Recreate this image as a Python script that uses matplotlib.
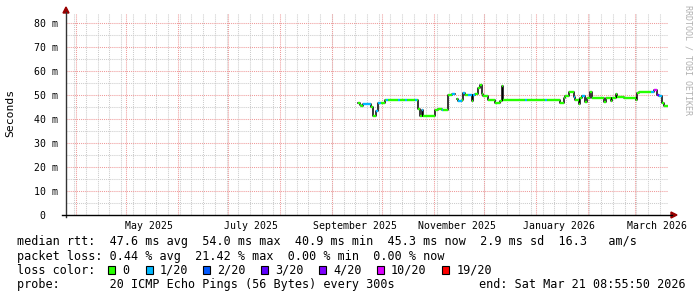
import numpy as np
import pandas as pd
import matplotlib
matplotlib.use("Agg")
import matplotlib.pyplot as plt
from matplotlib.lines import Line2D
from matplotlib.patches import Rectangle, Polygon

# median rtt per period (ms) and pings lost out of 20
fechas = ["2025-09-17", "2025-09-18", "2025-09-19", "2025-09-20", "2025-09-25", "2025-09-26",
          "2025-09-28", "2025-09-29", "2025-10-01", "2025-10-03", "2025-10-04", "2025-10-05",
          "2025-10-11", "2025-10-12", "2025-10-15", "2025-10-16", "2025-10-21", "2025-10-22",
          "2025-10-23", "2025-10-24", "2025-10-25", "2025-10-26", "2025-11-02", "2025-11-04",
          "2025-11-06", "2025-11-07", "2025-11-10", "2025-11-12", "2025-11-14", "2025-11-15",
          "2025-11-16", "2025-11-18", "2025-11-19", "2025-11-20", "2025-11-22", "2025-11-24",
          "2025-11-25", "2025-11-26", "2025-11-28", "2025-11-29", "2025-11-30", "2025-12-01",
          "2025-12-04", "2025-12-08", "2025-12-11", "2025-12-12", "2025-12-13", "2025-12-26",
          "2025-12-27", "2026-01-07", "2026-01-08", "2026-01-16", "2026-01-18", "2026-01-19",
          "2026-01-21", "2026-01-24", "2026-01-25", "2026-01-27", "2026-01-28", "2026-01-29",
          "2026-01-31", "2026-02-01", "2026-02-03", "2026-02-04", "2026-02-11", "2026-02-12",
          "2026-02-15", "2026-02-16", "2026-02-18", "2026-02-19", "2026-02-23", "2026-03-02",
          "2026-03-03", "2026-03-04", "2026-03-11", "2026-03-13", "2026-03-15", "2026-03-16",
          "2026-03-18", "2026-03-19"]
mediana = [46.6, 45.8, 45.2, 46.3, 45.0, 41.0,
           43.2, 46.5, 46.5, 47.7, 47.7, 47.7,
           47.7, 47.7, 47.9, 47.7, 47.7, 47.7,
           44.0, 41.1, 43.5, 41.1, 43.5, 44.0,
           43.5, 43.8, 50.0, 50.2, np.nan, 48.3,
           47.3, 48.0, 50.7, 50.0, 49.8, 47.3,
           50.0, 50.5, 52.8, 54.0, 50.3, 49.6,
           48.0, 46.7, 47.6, 53.5, 47.7, 47.7,
           47.7, 47.7, 47.7, 46.6, 48.7, 49.4,
           51.0, 49.0, 48.0, 46.0, 48.5, 49.4,
           46.8, 48.7, 51.0, 48.7, 47.0, 48.7,
           47.3, 48.7, 50.5, 49.0, 48.7, 48.0,
           50.7, 51.0, 51.3, 51.9, 50.0, 49.4,
           46.6, 45.3]
perdidos = [0, 0, 0, 1, 0, 0,
            1, 1, 0, 0, 1, 0,
            1, 0, 1, 0, 1, 0,
            0, 0, 1, 0, 0, 0,
            1, 0, 0, 1, 0, 0,
            1, 0, 1, 0, 1, 0,
            1, 0, 0, 0, 0, 0,
            0, 0, 0, 0, 0, 1,
            0, 1, 0, 0, 0, 0,
            0, 1, 0, 0, 0, 1,
            0, 0, 0, 0, 0, 0,
            0, 0, 0, 0, 0, 0,
            0, 0, 1, 10, 3, 1,
            0, 0]

inicio = pd.Timestamp("2025-03-26 08:55:50")
fin = pd.Timestamp("2026-03-21 08:55:50")

# leyenda de colores de pérdida
niveles_perdida = [0, 1, 2, 3, 4, 10, 19]
etiquetas_perdida = ["0", "1/20", "2/20", "3/20", "4/20", "10/20", "19/20"]
colores_perdida = ["#26ff00", "#00b8ff", "#0059ff", "#5e00ff", "#7e00ff", "#dd00ff", "#ff0000"]

etiquetas_x = ["May 2025", "July 2025", "September 2025", "November 2025", "January 2026", "March 2026"]
fechas_etiquetas = ["2025-05-15", "2025-07-15", "2025-09-15", "2025-11-15", "2026-01-15", "2026-03-15"]

fila_rtt = "median rtt:  47.6 ms avg  54.0 ms max  40.9 ms min  45.3 ms now  2.9 ms sd  16.3   am/s"
fila_loss = "packet loss: 0.44 % avg  21.42 % max  0.00 % min  0.00 % now"
sonda = "probe:       20 ICMP Echo Pings (56 Bytes) every 300s"
fin_txt = "end: Sat Mar 21 08:55:50 2026"

MONO = "DejaVu Sans Mono"
W, H = 697, 297


def px(x, y):
    return x / W, 1 - y / H


fig = plt.figure(figsize=(W / 100, H / 100), dpi=100)
fig.patch.set_facecolor("white")
ax = fig.add_axes([66 / W, (H - 215) / H, 602 / W, 202 / H])
ax.set_xlim(inicio, fin)
ax.set_ylim(0, 84)
for s in ax.spines.values():
    s.set_visible(False)

# grilla: semanas (gris) y meses (rojo)
for t in pd.date_range(inicio, fin, freq="W-MON"):
    ax.axvline(t, color="#cccccc", lw=0.75, ls=(0, (1, 1)), zorder=0)
for t in pd.date_range(inicio, fin, freq="MS"):
    ax.axvline(t, color="#ef9a9a", lw=0.75, ls=(0, (1, 1)), zorder=0.5)
for v in np.arange(5, 84, 10):
    ax.axhline(v, color="#cccccc", lw=0.75, ls=(0, (1, 1)), zorder=0)
for v in np.arange(10, 84, 10):
    ax.axhline(v, color="#ef9a9a", lw=0.75, ls=(0, (1, 1)), zorder=0.5)

ax.set_yticks(np.arange(0, 81, 10))
ax.set_yticklabels(["0  "] + ["%d m" % v for v in range(10, 81, 10)], family=MONO, fontsize=7.1)
ax.set_xticks(pd.to_datetime(fechas_etiquetas))
ax.set_xticklabels(etiquetas_x, family=MONO, fontsize=7.1)
ax.tick_params(length=0)
ax.tick_params(axis="y", pad=5.5)
ax.tick_params(axis="x", pad=4)

# mediana escalonada
t = pd.to_datetime(fechas)
t_fin = list(t[1:]) + [fin]
y = np.array(mediana)
ax.step(list(t) + [fin], list(y) + [y[-1]], where="post", color="black", lw=1.1, zorder=3)
color_de = dict(zip(niveles_perdida, colores_perdida))
for t0, t1, v, p in zip(t, t_fin, y, perdidos):
    if np.isnan(v):
        continue
    ax.hlines(v, t0, t1, color=color_de[p], lw=1.7, zorder=4, capstyle="butt")

# ejes y flechas
fig.add_artist(Line2D(*zip(px(66, 217), px(66, 12)), color="#333333", lw=1))
fig.add_artist(Line2D(*zip(px(62, 215), px(672, 215)), color="black", lw=1))
fig.add_artist(Polygon([px(63, 13), px(69, 13), px(66, 7)], closed=True, color="#990000",
                       transform=fig.transFigure))
fig.add_artist(Polygon([px(671, 212), px(671, 218), px(677, 215)], closed=True, color="#990000",
                       transform=fig.transFigure))

fig.text(*px(10, 113), "Seconds", rotation=90, ha="center", va="center", family=MONO, fontsize=8.2)
fig.text(*px(688, 5), "RRDTOOL / TOBI OETIKER", rotation=270, ha="center", va="top",
         family=MONO, fontsize=6, color="#b0b0b0")

# leyenda
fs = 8.45
fig.text(*px(16.7, 245.3), fila_rtt, family=MONO, fontsize=fs, va="baseline")
fig.text(*px(16.7, 259.6), fila_loss, family=MONO, fontsize=fs, va="baseline")
fig.text(*px(16.7, 273.5), "loss color:", family=MONO, fontsize=fs, va="baseline")
xs_cuadro = [108.3, 145.7, 203, 261, 319.3, 376.7, 442.3]
for x, c, e in zip(xs_cuadro, colores_perdida, etiquetas_perdida):
    x0, y0 = px(x, 273.5)
    fig.add_artist(Rectangle((x0, y0), 7 / W, 8 / H, facecolor=c, edgecolor="black", lw=0.8,
                             transform=fig.transFigure))
    fig.text(*px(x + 14.4, 273.5), e, family=MONO, fontsize=fs, va="baseline")
fig.text(*px(16.7, 287.7), sonda, family=MONO, fontsize=fs, va="baseline")
fig.text(*px(478.7, 287.7), fin_txt, family=MONO, fontsize=fs, va="baseline")

fig.savefig("out.png", dpi=100)
